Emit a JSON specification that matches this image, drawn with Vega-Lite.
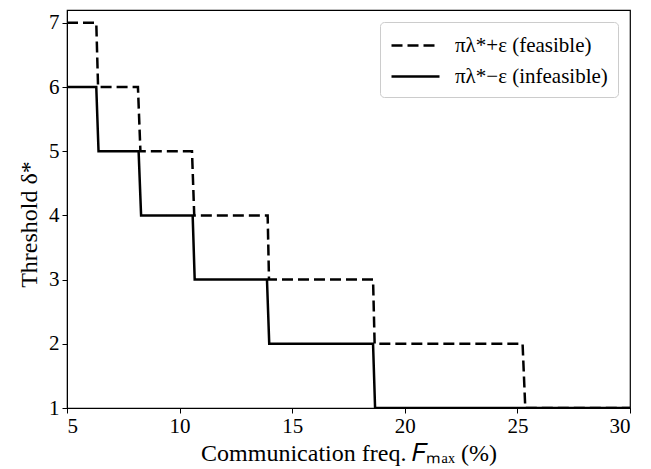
{
  "$schema": "https://vega.github.io/schema/vega-lite/v6.json",
  "width": 563,
  "height": 398,
  "autosize": "none",
  "padding": {"left": 67, "top": 10, "right": 21, "bottom": 61},
  "background": "white",
  "config": {
    "font": "Liberation Serif",
    "view": {"stroke": "black", "strokeWidth": 1.2},
    "axis": {
      "grid": false,
      "domainColor": "black",
      "tickColor": "black",
      "labelColor": "black",
      "titleColor": "black",
      "labelFont": "Liberation Serif",
      "titleFont": "Liberation Serif",
      "labelFontSize": 21,
      "titleFontSize": 24,
      "titleFontWeight": "normal",
      "tickSize": 5
    }
  },
  "data": {
    "values": [
      {"x": 5, "y": 7, "s": "πλ*+ε (feasible)"},
      {"x": 6.30, "y": 7, "s": "πλ*+ε (feasible)"},
      {"x": 6.38, "y": 6, "s": "πλ*+ε (feasible)"},
      {"x": 8.15, "y": 6, "s": "πλ*+ε (feasible)"},
      {"x": 8.26, "y": 5, "s": "πλ*+ε (feasible)"},
      {"x": 10.55, "y": 5, "s": "πλ*+ε (feasible)"},
      {"x": 10.65, "y": 4, "s": "πλ*+ε (feasible)"},
      {"x": 13.91, "y": 4, "s": "πλ*+ε (feasible)"},
      {"x": 13.97, "y": 3, "s": "πλ*+ε (feasible)"},
      {"x": 18.59, "y": 3, "s": "πλ*+ε (feasible)"},
      {"x": 18.66, "y": 2, "s": "πλ*+ε (feasible)"},
      {"x": 25.23, "y": 2, "s": "πλ*+ε (feasible)"},
      {"x": 25.35, "y": 1, "s": "πλ*+ε (feasible)"},
      {"x": 30, "y": 1, "s": "πλ*+ε (feasible)"},
      {"x": 5, "y": 6, "s": "πλ*−ε (infeasible)"},
      {"x": 6.30, "y": 6, "s": "πλ*−ε (infeasible)"},
      {"x": 6.40, "y": 5, "s": "πλ*−ε (infeasible)"},
      {"x": 8.18, "y": 5, "s": "πλ*−ε (infeasible)"},
      {"x": 8.29, "y": 4, "s": "πλ*−ε (infeasible)"},
      {"x": 10.58, "y": 4, "s": "πλ*−ε (infeasible)"},
      {"x": 10.67, "y": 3, "s": "πλ*−ε (infeasible)"},
      {"x": 13.88, "y": 3, "s": "πλ*−ε (infeasible)"},
      {"x": 13.98, "y": 2, "s": "πλ*−ε (infeasible)"},
      {"x": 18.59, "y": 2, "s": "πλ*−ε (infeasible)"},
      {"x": 18.68, "y": 1, "s": "πλ*−ε (infeasible)"},
      {"x": 30, "y": 1, "s": "πλ*−ε (infeasible)"}
    ]
  },
  "mark": {"type": "line", "color": "black", "strokeWidth": 2.5, "clip": true},
  "encoding": {
    "x": {
      "field": "x", "type": "quantitative",
      "scale": {"domain": [5, 30], "nice": false, "zero": false},
      "axis": {"values": [5, 10, 15, 20, 25, 30], "title": "Communication freq. 𝐹ₘₐₓ (%)", "labelPadding": 2, "titlePadding": 5}
    },
    "y": {
      "field": "y", "type": "quantitative",
      "scale": {"domain": [1, 7.2], "nice": false, "zero": false},
      "axis": {"values": [1, 2, 3, 4, 5, 6, 7], "title": "Threshold δ*", "labelPadding": 3, "titlePadding": 7, "titleY": 214}
    },
    "strokeDash": {
      "field": "s", "type": "nominal",
      "scale": {"domain": ["πλ*+ε (feasible)", "πλ*−ε (infeasible)"], "range": [[11, 5], [1, 0]]},
      "legend": {
        "title": null,
        "orient": "top-right",
        "offset": 12,
        "symbolType": "M-2,0H2",
        "symbolSize": 576,
        "symbolOffset": 12,
        "symbolStrokeWidth": 2.5,
        "symbolStrokeColor": "black",
        "symbolFillColor": "transparent",
        "strokeColor": "#cccccc",
        "cornerRadius": 4,
        "padding": 10,
        "rowPadding": 7,
        "labelFont": "Liberation Serif",
        "labelFontSize": 21,
        "labelColor": "black",
        "labelOffset": 26,
        "fillColor": "white"
      }
    }
  }
}
